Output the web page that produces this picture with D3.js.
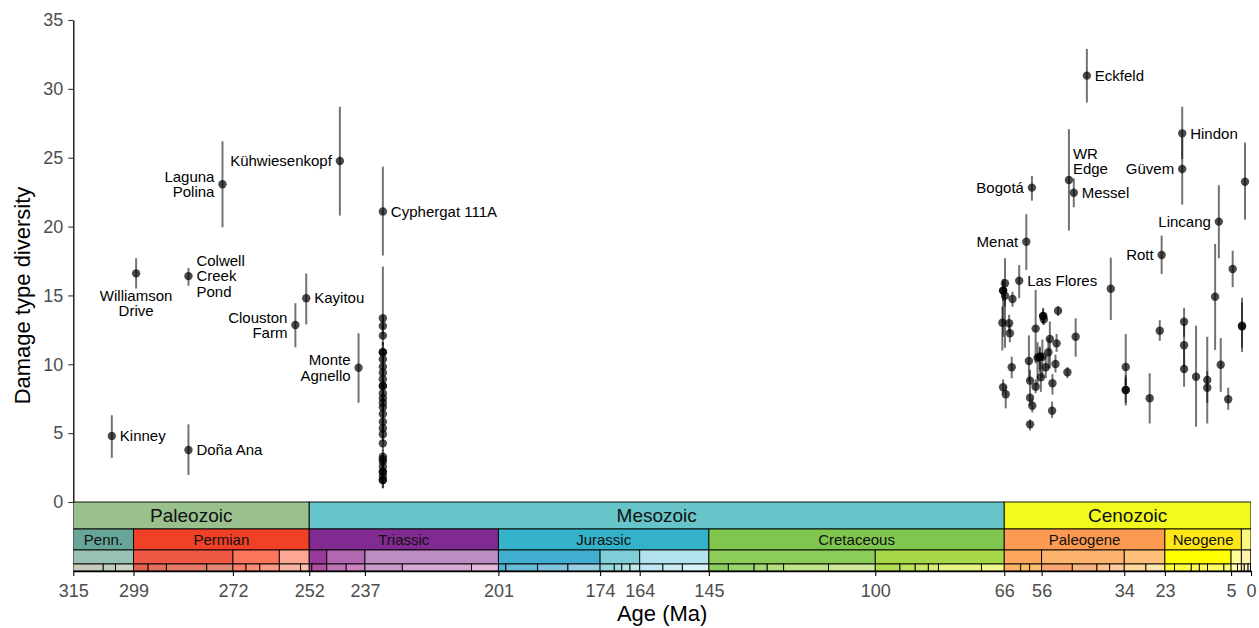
<!DOCTYPE html>
<html>
<head>
<meta charset="utf-8">
<script src="https://cdn.jsdelivr.net/npm/d3@7"></script>
<style>
  body { margin: 0; background: #fff; }
  svg { font-family: "Liberation Sans", Arial, Helvetica, sans-serif; }
</style>
</head>
<body>
<svg id="chart"></svg>
<script>
'use strict';

// ---------- data ----------
// named fossil floras (age in Ma, damage type diversity with interval)
var namedSites = [
  { site: 'Kinney',             age: 304.7, dt: 4.79,  lo: 3.2,   hi: 6.3 },
  { site: 'Williamson Drive',   age: 298.2, dt: 16.6,  lo: 15.5,  hi: 17.7 },
  { site: 'Colwell Creek Pond', age: 284.2, dt: 16.4,  lo: 15.7,  hi: 17.0 },
  { site: 'Doña Ana',           age: 284.2, dt: 3.78,  lo: 1.96,  hi: 5.64 },
  { site: 'Laguna Polina',      age: 275.1, dt: 23.07, lo: 19.95, hi: 26.2 },
  { site: 'Clouston Farm',      age: 255.6, dt: 12.85, lo: 11.23, hi: 14.43 },
  { site: 'Kayitou',            age: 252.7, dt: 14.8,  lo: 12.9,  hi: 16.6 },
  { site: 'Kühwiesenkopf',      age: 243.7, dt: 24.76, lo: 20.8,  hi: 28.7 },
  { site: 'Monte Agnello',      age: 238.7, dt: 9.75,  lo: 7.21,  hi: 12.25 },
  { site: 'Cyphergat 111A',     age: 232.2, dt: 21.1,  lo: 17.9,  hi: 24.35 },
  { site: 'Las Flores',         age: 62.0,  dt: 16.07, lo: 14.8,  hi: 17.2 },
  { site: 'Menat',              age: 60.1,  dt: 18.9,  lo: 16.85, hi: 20.9 },
  { site: 'Bogotá',             age: 58.6,  dt: 22.83, lo: 21.88, hi: 23.67 },
  { site: 'WR Edge',            age: 48.7,  dt: 23.38, lo: 19.7,  hi: 27.07 },
  { site: 'Messel',             age: 47.4,  dt: 22.46, lo: 21.4,  hi: 23.5 },
  { site: 'Eckfeld',            age: 43.9,  dt: 30.96, lo: 29.0,  hi: 32.9 },
  { site: 'Rott',               age: 23.9,  dt: 17.94, lo: 16.56, hi: 19.34 },
  { site: 'Hindon',             age: 18.4,  dt: 26.77, lo: 24.9,  hi: 28.7 },
  { site: 'Güvem',              age: 18.4,  dt: 24.18, lo: 21.6,  hi: 26.5 },
  { site: 'Lincang',            age: 8.6,   dt: 20.36, lo: 17.7,  hi: 23.0 }
];

// Molteno samples, all at one age
var moltenoAge = 232.2;
var moltenoDT = [13.34, 12.78, 12.08, 10.87, 10.87, 10.36, 9.83, 9.39, 8.91, 8.42, 8.42, 7.89, 7.53,
                 7.21, 6.88, 6.39, 5.83, 5.35, 4.92, 4.26, 3.29, 3.1, 2.93, 2.57, 2.2, 2.2, 1.89, 1.6, 1.6];
var moltenoLo = [12.6, 12.1, 11.4, 10.2, 10.2, 9.7, 9.2, 8.8, 8.3, 7.8, 7.8, 7.3, 7.0,
                 6.6, 6.3, 5.8, 5.2, 4.8, 4.4, 3.7, 2.8, 2.6, 2.4, 2.1, 1.7, 1.7, 1.4, 1.0, 1.0];
var moltenoHi = [17.1, 13.5, 12.8, 11.6, 11.6, 11.0, 10.5, 10.0, 9.5, 9.0, 9.0, 8.5, 8.1,
                 7.8, 7.5, 7.0, 6.4, 5.9, 5.5, 4.8, 3.8, 3.6, 3.4, 3.0, 2.7, 2.7, 2.4, 2.1, 2.1];

// unnamed latest Cretaceous-Cenozoic floras: [age, dt, lo, hi]
var otherSites = [
  [65.8, 15.88, 11.2, 17.7], [66.3, 15.35, 12.0, 16.2], [66.3, 15.35, 14.6, 16.0],
  [65.8, 14.98, 14.2, 15.6], [63.8, 14.74, 14.18, 15.27], [66.5, 13.02, 11.0, 14.2],
  [64.7, 12.98, 12.3, 13.6], [64.5, 12.25, 11.6, 12.9], [64.0, 9.78, 8.98, 10.55],
  [66.3, 8.33, 7.9, 8.9], [65.6, 7.82, 6.8, 8.4], [57.6, 12.59, 10.07, 15.4],
  [55.6, 13.5, 12.9, 14.0], [55.6, 13.5, 13.0, 14.1], [55.4, 13.27, 12.85, 13.8],
  [51.6, 13.89, 13.5, 14.23], [53.8, 11.84, 9.7, 13.1], [52.0, 11.52, 10.9, 12.2],
  [46.9, 12.0, 10.55, 13.34], [59.4, 10.24, 8.8, 12.1], [57.1, 10.48, 8.5, 11.6],
  [56.5, 10.55, 9.4, 11.2], [56.5, 10.55, 9.6, 11.3], [55.8, 10.55, 9.0, 11.8],
  [54.2, 10.87, 9.7, 11.9], [54.9, 9.78, 9.0, 10.6], [52.3, 10.02, 9.4, 10.7],
  [49.1, 9.42, 9.0, 9.8], [56.2, 9.06, 8.0, 10.2], [59.1, 8.81, 8.2, 9.6],
  [57.6, 8.37, 7.9, 8.9], [53.1, 8.62, 7.8, 9.3], [59.1, 7.57, 7.0, 8.2],
  [58.5, 6.99, 6.5, 7.5], [53.2, 6.63, 6.1, 7.3], [59.1, 5.64, 5.2, 6.0],
  [37.5, 15.49, 13.22, 17.74], [33.5, 9.8, 8.5, 12.2], [33.5, 8.13, 7.0, 9.2],
  [33.5, 8.13, 7.2, 9.0], [27.1, 7.53, 5.7, 9.35], [24.4, 12.44, 11.7, 13.2],
  [17.9, 13.09, 12.0, 14.1], [17.9, 11.38, 9.8, 12.9], [17.9, 9.66, 8.37, 11.1],
  [14.7, 9.1, 5.47, 12.8], [11.7, 8.86, 7.2, 12.0], [11.7, 8.3, 5.7, 9.5],
  [9.6, 14.91, 11.04, 18.74], [8.1, 9.97, 8.0, 11.9], [6.1, 7.46, 6.7, 8.3],
  [4.9, 16.92, 15.6, 18.25], [2.4, 12.8, 10.9, 14.84], [2.4, 12.75, 11.2, 14.5],
  [1.6, 23.26, 20.5, 26.1]
];

// axis ticks (placed on boundaries, labelled rounded)
var ageTicks      = [315, 298.9, 272.3, 251.9, 237, 201.3, 174.1, 163.5, 145, 100.5, 66, 56, 33.9, 23.03, 5.333, 0];
var ageTickLabels = ['315', '299', '272', '252', '237', '201', '174', '164', '145', '100', '66', '56', '34', '23', '5', '0'];
var dtTicks = [0, 5, 10, 15, 20, 25, 30, 35];

// geologic time scale: [name, max, min]
var eras = [
  ['Paleozoic', 541, 251.9], ['Mesozoic', 251.9, 66], ['Cenozoic', 66, 0]
];
var periods = [
  ['Penn.', 358.9, 298.9], ['Permian', 298.9, 251.9], ['Triassic', 251.9, 201.3],
  ['Jurassic', 201.3, 145], ['Cretaceous', 145, 66], ['Paleogene', 66, 23.03],
  ['Neogene', 23.03, 2.58], ['Quaternary', 2.58, 0]
];
var epochs = [
  ['Pennsylvanian', 323.2, 298.9], ['Cisuralian', 298.9, 272.3], ['Guadalupian', 272.3, 259.9],
  ['Lopingian', 259.9, 251.9], ['Early Triassic', 251.9, 247.2], ['Middle Triassic', 247.2, 237],
  ['Late Triassic', 237, 201.3], ['Early Jurassic', 201.3, 174.1], ['Middle Jurassic', 174.1, 163.5],
  ['Late Jurassic', 163.5, 145], ['Early Cretaceous', 145, 100.5], ['Late Cretaceous', 100.5, 66],
  ['Paleocene', 66, 56], ['Eocene', 56, 33.9], ['Oligocene', 33.9, 23.03], ['Miocene', 23.03, 5.333],
  ['Pliocene', 5.333, 2.58], ['Pleistocene', 2.58, 0.0117], ['Holocene', 0.0117, 0]
];
var stages = [
  ['Moscovian', 315.2, 307], ['Kasimovian', 307, 303.7], ['Gzhelian', 303.7, 298.9],
  ['Asselian', 298.9, 295], ['Sakmarian', 295, 290.1], ['Artinskian', 290.1, 279.3],
  ['Kungurian', 279.3, 272.3], ['Roadian', 272.3, 268.8], ['Wordian', 268.8, 265.1],
  ['Capitanian', 265.1, 259.9], ['Wuchiapingian', 259.9, 254.2], ['Changhsingian', 254.2, 251.9],
  ['Induan', 251.9, 251.2], ['Olenekian', 251.2, 247.2], ['Anisian', 247.2, 242],
  ['Ladinian', 242, 237], ['Carnian', 237, 227], ['Norian', 227, 208.5], ['Rhaetian', 208.5, 201.3],
  ['Hettangian', 201.3, 199.3], ['Sinemurian', 199.3, 190.8], ['Pliensbachian', 190.8, 182.7],
  ['Toarcian', 182.7, 174.1], ['Aalenian', 174.1, 170.3], ['Bajocian', 170.3, 168.3],
  ['Bathonian', 168.3, 166.1], ['Callovian', 166.1, 163.5], ['Oxfordian', 163.5, 157.3],
  ['Kimmeridgian', 157.3, 152.1], ['Tithonian', 152.1, 145], ['Berriasian', 145, 139.8],
  ['Valanginian', 139.8, 132.9], ['Hauterivian', 132.9, 129.4], ['Barremian', 129.4, 125],
  ['Aptian', 125, 113], ['Albian', 113, 100.5], ['Cenomanian', 100.5, 93.9], ['Turonian', 93.9, 89.8],
  ['Coniacian', 89.8, 86.3], ['Santonian', 86.3, 83.6], ['Campanian', 83.6, 72.1],
  ['Maastrichtian', 72.1, 66], ['Danian', 66, 61.6], ['Selandian', 61.6, 59.2], ['Thanetian', 59.2, 56],
  ['Ypresian', 56, 47.8], ['Lutetian', 47.8, 41.2], ['Bartonian', 41.2, 37.8], ['Priabonian', 37.8, 33.9],
  ['Rupelian', 33.9, 28.1], ['Chattian', 28.1, 23.03], ['Aquitanian', 23.03, 20.44],
  ['Burdigalian', 20.44, 15.97], ['Langhian', 15.97, 13.82], ['Serravallian', 13.82, 11.63],
  ['Tortonian', 11.63, 7.246], ['Messinian', 7.246, 5.333], ['Zanclean', 5.333, 3.6],
  ['Piacenzian', 3.6, 2.58], ['Gelasian', 2.58, 1.8], ['Calabrian', 1.8, 0.781],
  ['Chibanian', 0.781, 0.126], ['Upper Pleistocene', 0.126, 0.0117], ['Meghalayan', 0.0117, 0]
];

// ICS colours
var unitColor = {
  'Paleozoic': '#99C08D', 'Mesozoic': '#67C5CA', 'Cenozoic': '#F2F91D',
  'Penn.': '#67A599', 'Permian': '#F04028', 'Triassic': '#812B92', 'Jurassic': '#34B2C9',
  'Cretaceous': '#7FC64E', 'Paleogene': '#FD9A52', 'Neogene': '#FFE619', 'Quaternary': '#F9F97F',
  'Pennsylvanian': '#99C2B5', 'Cisuralian': '#EF5845', 'Guadalupian': '#FB745C', 'Lopingian': '#FBA794',
  'Early Triassic': '#983999', 'Middle Triassic': '#B168B1', 'Late Triassic': '#BD8CC3',
  'Early Jurassic': '#42AED0', 'Middle Jurassic': '#80CFD8', 'Late Jurassic': '#B3E3EE',
  'Early Cretaceous': '#8CCD57', 'Late Cretaceous': '#A6D84A', 'Paleocene': '#FDA75F',
  'Eocene': '#FDB46C', 'Oligocene': '#FEC07A', 'Miocene': '#FFFF00', 'Pliocene': '#FFFF99',
  'Pleistocene': '#FFF2AE', 'Holocene': '#FEF2E0',
  'Moscovian': '#C7CBB9', 'Kasimovian': '#BFD0BA', 'Gzhelian': '#CCD4C7', 'Asselian': '#E36350',
  'Sakmarian': '#E36F5C', 'Artinskian': '#E37B68', 'Kungurian': '#E38776', 'Roadian': '#FB8069',
  'Wordian': '#FB8D76', 'Capitanian': '#FB9A85', 'Wuchiapingian': '#FCB4A2', 'Changhsingian': '#FCC0B2',
  'Induan': '#A4469F', 'Olenekian': '#B051A5', 'Anisian': '#BC75B7', 'Ladinian': '#C983BF',
  'Carnian': '#C99BCB', 'Norian': '#D6AAD3', 'Rhaetian': '#E3B9DB', 'Hettangian': '#4EB3D3',
  'Sinemurian': '#67BCD8', 'Pliensbachian': '#80C5DD', 'Toarcian': '#99CEE3', 'Aalenian': '#9AD9DD',
  'Bajocian': '#A6DDE0', 'Bathonian': '#B3E2E3', 'Callovian': '#BFE7E5', 'Oxfordian': '#BFE7F1',
  'Kimmeridgian': '#CCECF4', 'Tithonian': '#D9F1F7', 'Berriasian': '#8CCD60', 'Valanginian': '#99D36A',
  'Hauterivian': '#A6D975', 'Barremian': '#B3DF7F', 'Aptian': '#BFE48A', 'Albian': '#CCEA97',
  'Cenomanian': '#B3DE53', 'Turonian': '#BFE35D', 'Coniacian': '#CCE968', 'Santonian': '#D9EF74',
  'Campanian': '#E6F47F', 'Maastrichtian': '#F2FA8C', 'Danian': '#FDB462', 'Selandian': '#FEBF65',
  'Thanetian': '#FDBF6F', 'Ypresian': '#FCA773', 'Lutetian': '#FCB482', 'Bartonian': '#FDC091',
  'Priabonian': '#FDCDA1', 'Rupelian': '#FED99A', 'Chattian': '#FEE6AA', 'Aquitanian': '#FFFF33',
  'Burdigalian': '#FFFF41', 'Langhian': '#FFFF4D', 'Serravallian': '#FFFF59', 'Tortonian': '#FFFF66',
  'Messinian': '#FFFF73', 'Zanclean': '#FFFFB3', 'Piacenzian': '#FFFFBF', 'Gelasian': '#FFEDB3',
  'Calabrian': '#FFF2BA', 'Chibanian': '#FFF2C7', 'Upper Pleistocene': '#FFF2D3', 'Meghalayan': '#FEEBD2'
};

// ---------- layout ----------
var W = 1259, H = 628;
var plotLeft = 73.3, plotRight = 1251, plotTop = 20, zeroY = 502;

var svg = d3.select('#chart').attr('width', W).attr('height', H);

var x = d3.scaleLinear().domain([315, 0]).range([plotLeft, plotRight]);
var y = d3.scaleLinear().domain([0, 35]).range([zeroY, plotTop]);

// label placement for the named sites
var labelLayout = {
  'Kinney':             { side: 'r', lines: ['Kinney'] },
  'Williamson Drive':   { side: 'b', lines: ['Williamson', 'Drive'] },
  'Colwell Creek Pond': { side: 'r', lines: ['Colwell', 'Creek', 'Pond'] },
  'Doña Ana':           { side: 'r', lines: ['Doña Ana'] },
  'Laguna Polina':      { side: 'l', lines: ['Laguna', 'Polina'] },
  'Clouston Farm':      { side: 'l', lines: ['Clouston', 'Farm'] },
  'Kayitou':            { side: 'r', lines: ['Kayitou'] },
  'Kühwiesenkopf':      { side: 'l', lines: ['Kühwiesenkopf'] },
  'Monte Agnello':      { side: 'l', lines: ['Monte', 'Agnello'] },
  'Cyphergat 111A':     { side: 'r', lines: ['Cyphergat 111A'] },
  'Las Flores':         { side: 'r', lines: ['Las Flores'] },
  'Menat':              { side: 'l', lines: ['Menat'] },
  'Bogotá':             { side: 'l', lines: ['Bogotá'] },
  'WR Edge':            { side: 'a', lines: ['WR', 'Edge'] },
  'Messel':             { side: 'r', lines: ['Messel'] },
  'Eckfeld':            { side: 'r', lines: ['Eckfeld'] },
  'Rott':               { side: 'l', lines: ['Rott'] },
  'Hindon':             { side: 'r', lines: ['Hindon'] },
  'Güvem':              { side: 'l', lines: ['Güvem'] },
  'Lincang':            { side: 'l', lines: ['Lincang'] }
};

// combine all floras into one list for drawing
var allPoints = namedSites.map(function(d){ return { age: d.age, dt: d.dt, lo: d.lo, hi: d.hi }; });
moltenoDT.forEach(function(v, i){
  allPoints.push({ age: moltenoAge, dt: v, lo: moltenoLo[i], hi: moltenoHi[i] });
});
otherSites.forEach(function(d){
  allPoints.push({ age: d[0], dt: d[1], lo: d[2], hi: d[3] });
});

// ---------- time scale ----------
var rows = [
  { units: eras,    h: 27, font: 19 },
  { units: periods, h: 21, font: 15 },
  { units: epochs,  h: 14, font: 0 },
  { units: stages,  h: 7,  font: 0 }
];

svg.append('clipPath').attr('id', 'tsclip')
  .append('rect').attr('x', plotLeft).attr('y', zeroY - 1).attr('width', plotRight - plotLeft).attr('height', 80);

var ts = svg.append('g').attr('clip-path', 'url(#tsclip)');
var rowY = zeroY;
rows.forEach(function(row){
  var vis = row.units.filter(function(u){ return u[1] > 0 && u[2] < 315; });
  var g = ts.append('g');
  vis.forEach(function(u){
    var x0 = x(Math.min(u[1], 315)), x1 = x(Math.max(u[2], 0));
    g.append('rect')
      .attr('x', x0).attr('y', rowY).attr('width', x1 - x0).attr('height', row.h)
      .attr('fill', unitColor[u[0]]).attr('stroke', '#000').attr('stroke-width', 0.9);
    if (row.font) {
      var t = g.append('text')
        .attr('x', (x0 + x1) / 2).attr('y', rowY + row.h / 2).attr('dy', '0.35em')
        .attr('text-anchor', 'middle').attr('font-size', row.font).attr('fill', '#111')
        .text(u[0]);
      if (t.node().getComputedTextLength() > (x1 - x0) - 2) t.remove();
    }
  });
  rowY += row.h;
});
var axisY = rowY;

// ---------- axes ----------
var xAxis = svg.append('g')
  .attr('transform', 'translate(0,' + axisY + ')')
  .call(d3.axisBottom(x).tickValues(ageTicks)
    .tickFormat(function(d, i){ return ageTickLabels[i]; })
    .tickSize(5).tickPadding(8).tickSizeOuter(0));
xAxis.select('.domain').attr('stroke', '#000').attr('stroke-width', 1.6);
xAxis.selectAll('.tick line').attr('stroke', '#000').attr('stroke-width', 1.1);
xAxis.selectAll('.tick text').attr('fill', '#4D4D4D').attr('font-size', 18)
  .attr('font-family', '"Liberation Sans", Arial, sans-serif');

var yAxis = svg.append('g')
  .attr('transform', 'translate(' + plotLeft + ',0)')
  .call(d3.axisLeft(y).tickValues(dtTicks).tickSize(5).tickPadding(5).tickSizeOuter(0));
yAxis.select('.domain').attr('stroke', '#000').attr('stroke-width', 1.3);
yAxis.selectAll('.tick line').attr('stroke', '#333').attr('stroke-width', 1.1);
yAxis.selectAll('.tick text').attr('fill', '#4D4D4D').attr('font-size', 18)
  .attr('font-family', '"Liberation Sans", Arial, sans-serif');

// axis titles
svg.append('text')
  .attr('x', (plotLeft + plotRight) / 2).attr('y', 621)
  .attr('text-anchor', 'middle').attr('font-size', 22).attr('fill', '#000')
  .text('Age (Ma)');
svg.append('text')
  .attr('transform', 'translate(30,' + ((plotTop + axisY) / 2) + ') rotate(-90)')
  .attr('text-anchor', 'middle').attr('font-size', 22).attr('fill', '#000')
  .text('Damage type diversity');

// ---------- point ranges ----------
var plot = svg.append('g');
plot.selectAll('line.range').data(allPoints).enter().append('line')
  .attr('class', 'range')
  .attr('x1', function(d){ return x(d.age); }).attr('x2', function(d){ return x(d.age); })
  .attr('y1', function(d){ return y(d.lo); }).attr('y2', function(d){ return y(d.hi); })
  .attr('stroke', '#000').attr('stroke-opacity', 0.55).attr('stroke-width', 2);

plot.selectAll('circle').data(allPoints).enter().append('circle')
  .attr('cx', function(d){ return x(d.age); })
  .attr('cy', function(d){ return y(d.dt); })
  .attr('r', 4.2)
  .attr('fill', '#000').attr('fill-opacity', 0.7);

// ---------- site labels ----------
var lineGap = 15.5;
var labels = svg.append('g').attr('font-size', 15).attr('fill', '#000');
namedSites.forEach(function(d){
  var lay = labelLayout[d.site];
  var px = x(d.age), py = y(d.dt);
  var n = lay.lines.length;
  var t = labels.append('text');
  var tx, anchor, firstY;
  if (lay.side === 'r') { tx = px + 8; anchor = 'start'; firstY = py - (n - 1) / 2 * lineGap; }
  else if (lay.side === 'l') { tx = px - 8; anchor = 'end'; firstY = py - (n - 1) / 2 * lineGap; }
  else if (lay.side === 'b') { tx = px; anchor = 'middle'; firstY = py + 22; }
  else { tx = px + 4; anchor = 'start'; firstY = py - 11 - (n - 1) * lineGap; }
  t.attr('text-anchor', anchor);
  lay.lines.forEach(function(line, i){
    t.append('tspan').attr('x', tx).attr('y', firstY + i * lineGap).attr('dy', '0.35em').text(line);
  });
});
</script>
</body>
</html>
